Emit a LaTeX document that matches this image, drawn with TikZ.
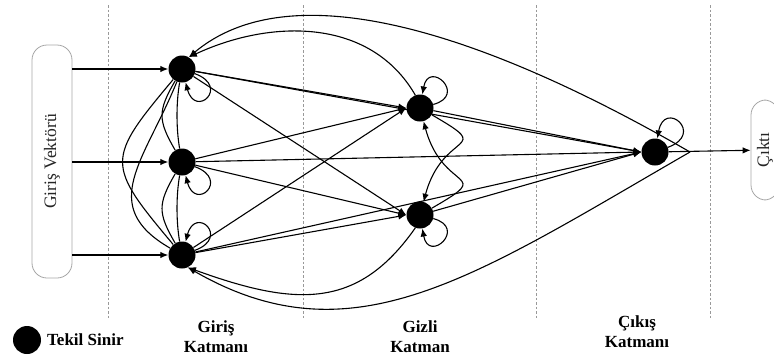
\documentclass[tikz,border=0pt]{standalone}
\usepackage{fontspec}
\setmainfont{Liberation Serif}
\usetikzlibrary{arrows.meta}

\tikzset{
  neuron/.style={circle,fill=black,minimum size=27pt,inner sep=0pt},
  link/.style={-{Latex[length=8pt,width=6.5pt]},line width=1.1pt},
  curve/.style={line width=1.1pt},
  layer/.style={gray!80,line width=0.6pt,dash pattern=on 2.5pt off 2pt},
  vecbox/.style={draw=gray!70,line width=0.8pt,rounded corners=15pt,rotate=90,
    text=black!85,font=\fontsize{17.5}{20}\selectfont},
  lbl/.style={font=\bfseries\fontsize{17}{20}\selectfont,align=center}
}

\begin{document}
\begin{tikzpicture}[x=1pt,y=1pt]
  \useasboundingbox (0,0) rectangle (774,-360);

  % layer borders
  \foreach \x in {108,303,536,710}{
    \draw[layer] (\x,-5) -- (\x,-318);
  }

  % input and output boxes
  \node[vecbox,minimum width=233pt,minimum height=40pt] (giris) at (52,-161.5) {Giriş Vektörü};
  \node[vecbox,minimum width=100pt,minimum height=28pt] (cikti) at (765,-150) {Çıktı};

  % neurons
  \node[neuron] (i1) at (182,-69) {};
  \node[neuron] (i2) at (182,-162) {};
  \node[neuron] (i3) at (182,-255) {};
  \node[neuron] (h1) at (420,-108) {};
  \node[neuron] (h2) at (420,-215) {};
  \node[neuron] (o) at (655,-152) {};
  \coordinate (tip) at (690,-152);

  % input vector -> input layer
  \foreach \n in {i1,i2,i3}{
    \draw[link] (giris.south |- \n) -- (\n.west);
  }

  % forward links
  \foreach \a in {i1,i2,i3}{
    \draw[link] (\a) -- (h1.west);
    \draw[link] (\a) -- (h2.west);
    \draw[link] (\a) -- (o.west);
  }
  \draw[link] (h1) -- (o.west);
  \draw[link] (h2) -- (o.west);
  \draw[link] (o) -- (cikti);

  % links inside the input layer
  \draw[curve] (i1) to[out=-130,in=130,distance=105pt] (i3);
  \draw[curve] (i1) to[out=-112,in=150,distance=85pt] (i3);
  \draw[curve] (i1) to[out=-120,in=120,distance=35pt] (i2);
  \draw[curve] (i2) to[out=100,in=-100,distance=20pt] (i1);
  \draw[curve] (i2) to[out=-120,in=120,distance=35pt] (i3);
  \draw[curve] (i3) to[out=100,in=-100,distance=20pt] (i2);

  % links inside the hidden layer
  \draw[link] (h1) to[out=-30,in=75,distance=75pt] (h2);
  \draw[link] (h2) to[out=30,in=-75,distance=75pt] (h1);

  % self loops
  \draw[link] (i1) to[out=-20,in=-75,distance=38pt] (i1);
  \draw[link] (i2) to[out=-20,in=-75,distance=38pt] (i2);
  \draw[link] (i3) to[out=20,in=75,distance=38pt] (i3);
  \draw[link] (h1) to[out=15,in=80,distance=36pt] (h1);
  \draw[link] (h2) to[out=-15,in=-80,distance=36pt] (h2);
  \draw[link] (o) to[out=20,in=80,distance=40pt] (o);

  % feedback arcs
  \draw[link] (tip) .. controls +(150:250) and +(40:130) .. (i1.60);
  \draw[link] (h1.110) .. controls +(120:90) and +(25:90) .. (i1.60);
  \draw[link] (h2.-110) .. controls +(-125:100) and +(-20:115) .. (i3.-65);
  \draw[link] (tip) .. controls +(-150:250) and +(-30:190) .. (i3.-65);

  % legend and layer names
  \node[neuron,minimum size=28pt] (key) at (27,-340) {};
  \node[lbl,anchor=west,inner sep=0pt] (keylbl) at (47,-340) {Tekil Sinir};
  \node[lbl] (lgiris) at (216,-337) {Giriş\\Katmanı};
  \node[lbl] (lgizli) at (420,-337) {Gizli\\Katman};
  \node[lbl] (lcikis) at (637,-332) {Çıkış\\Katmanı};
\end{tikzpicture}
\end{document}
